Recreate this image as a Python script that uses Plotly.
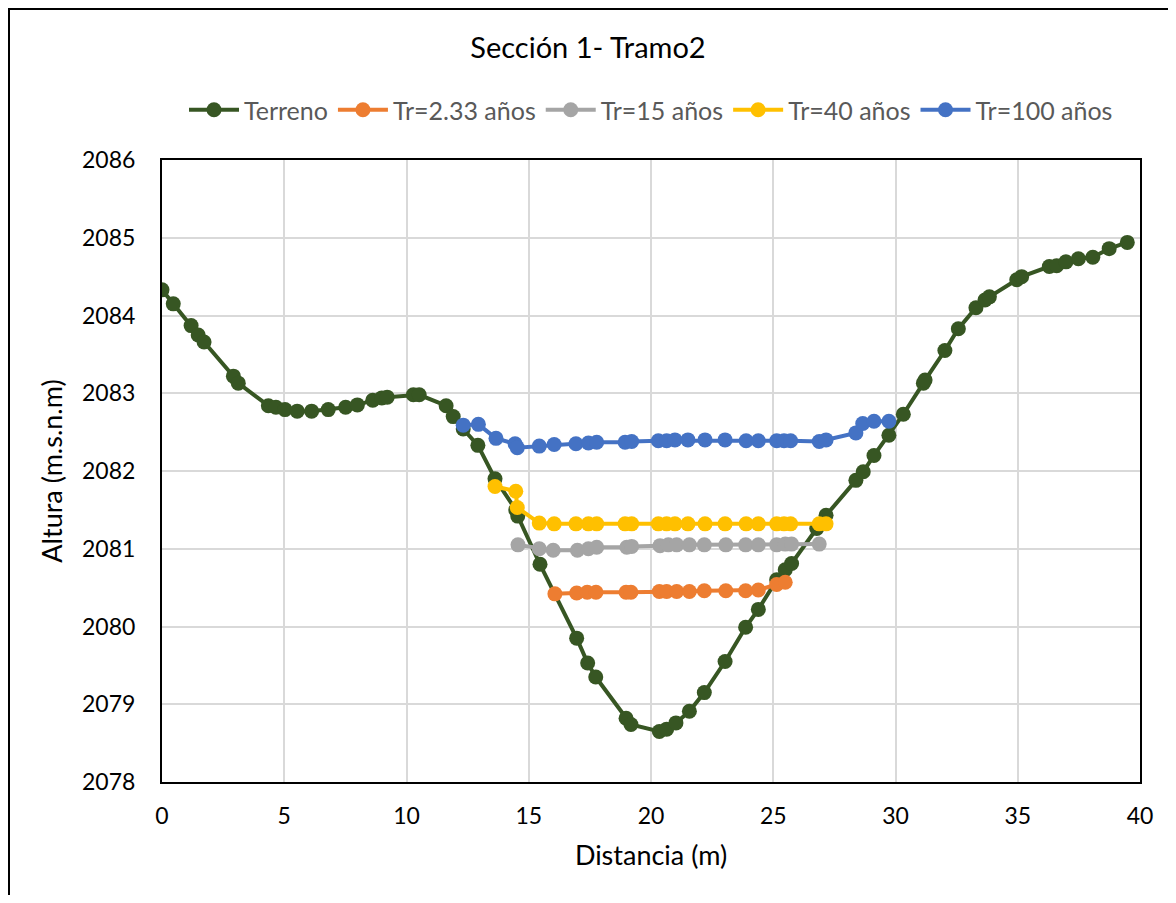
import plotly.graph_objects as go

# Terreno
terreno_x = [0.0, 0.46, 1.19, 1.48, 1.72, 2.92, 3.12, 4.35, 4.66, 5.03, 5.53, 6.12, 6.80, 7.51, 7.99,
             8.62, 8.99, 9.21, 10.28, 10.52, 11.62, 11.91, 12.32, 12.92, 13.62, 14.47, 14.55, 15.46,
             16.96, 17.41, 17.74, 18.98, 19.18, 20.34, 20.64, 21.02, 21.57, 22.18, 23.03, 23.87,
             24.39, 25.14, 25.49, 25.75, 26.78, 27.16, 28.38, 28.68, 29.12, 29.73, 30.32, 31.14,
             31.21, 32.02, 32.57, 33.29, 33.66, 33.84, 34.96, 35.16, 36.29, 36.59, 36.97, 37.48,
             38.07, 38.74, 39.48]
terreno_y = [2084.33, 2084.15, 2083.87, 2083.75, 2083.66, 2083.22, 2083.13, 2082.84, 2082.82, 2082.79,
             2082.77, 2082.77, 2082.79, 2082.82, 2082.85, 2082.91, 2082.94, 2082.95, 2082.98, 2082.98,
             2082.84, 2082.70, 2082.54, 2082.33, 2081.90, 2081.50, 2081.42, 2080.80, 2079.85, 2079.53,
             2079.35, 2078.82, 2078.74, 2078.65, 2078.68, 2078.76, 2078.91, 2079.15, 2079.55, 2079.99,
             2080.22, 2080.60, 2080.73, 2080.81, 2081.26, 2081.43, 2081.88, 2081.99, 2082.20, 2082.46,
             2082.73, 2083.13, 2083.17, 2083.55, 2083.83, 2084.10, 2084.20, 2084.24, 2084.46, 2084.50,
             2084.63, 2084.64, 2084.69, 2084.73, 2084.75, 2084.86, 2084.94]

# Tr = 2.33 años
tr233_x = [16.07, 16.96, 17.39, 17.75, 18.98, 19.18, 20.34, 20.64, 21.05, 21.57, 22.18, 23.06,
           23.87, 24.39, 25.14, 25.49]
tr233_y = [2080.42, 2080.43, 2080.44, 2080.44, 2080.44, 2080.44, 2080.45, 2080.45, 2080.45, 2080.45,
           2080.46, 2080.46, 2080.46, 2080.47, 2080.54, 2080.57]

# Tr = 15 años
tr15_x = [14.56, 15.43, 16.00, 16.99, 17.44, 17.78, 19.01, 19.21, 20.37, 20.71, 21.05, 21.57, 22.18,
          23.06, 23.87, 24.39, 25.14, 25.49, 25.75, 26.88]
tr15_y = [2081.05, 2081.00, 2080.98, 2080.98, 2081.00, 2081.02, 2081.02, 2081.03, 2081.04, 2081.05,
          2081.05, 2081.05, 2081.05, 2081.05, 2081.05, 2081.05, 2081.05, 2081.06, 2081.06, 2081.06]

# Tr = 40 años
tr40_x = [13.62, 14.47, 14.53, 15.43, 16.04, 16.93, 17.44, 17.78, 18.94, 19.21, 20.30, 20.64, 20.98,
          21.51, 22.21, 23.03, 23.89, 24.39, 25.14, 25.44, 25.71, 26.88, 27.16]
tr40_y = [2081.80, 2081.74, 2081.53, 2081.33, 2081.32, 2081.32, 2081.32, 2081.32, 2081.32, 2081.32,
          2081.32, 2081.32, 2081.32, 2081.32, 2081.32, 2081.32, 2081.32, 2081.32, 2081.32, 2081.32,
          2081.32, 2081.32, 2081.32]

# Tr = 100 años
tr100_x = [12.32, 12.94, 13.66, 14.44, 14.53, 15.43, 16.04, 16.93, 17.44, 17.78, 18.94, 19.21, 20.30,
           20.64, 20.98, 21.51, 22.21, 23.03, 23.89, 24.39, 25.14, 25.44, 25.71, 26.88, 27.16, 28.38,
           28.66, 29.12, 29.73]
tr100_y = [2082.59, 2082.60, 2082.42, 2082.35, 2082.30, 2082.32, 2082.34, 2082.35, 2082.36, 2082.37,
           2082.37, 2082.38, 2082.39, 2082.39, 2082.40, 2082.40, 2082.40, 2082.40, 2082.39, 2082.39,
           2082.39, 2082.39, 2082.39, 2082.38, 2082.40, 2082.49, 2082.61, 2082.64, 2082.64]

series = [
    ("Terreno", terreno_x, terreno_y, "#375623"),
    ("Tr=2.33 años", tr233_x, tr233_y, "#ED7D31"),
    ("Tr=15 años", tr15_x, tr15_y, "#A5A5A5"),
    ("Tr=40 años", tr40_x, tr40_y, "#FFC000"),
    ("Tr=100 años", tr100_x, tr100_y, "#4472C4"),
]

FONT = "Lato"
W, H = 1160, 887
L, T, PW, PH = 154, 152, 978, 622

fig = go.Figure()
for name, xs, ys, col in series:
    fig.add_trace(go.Scatter(
        x=xs, y=ys, name=name, mode="lines+markers",
        line=dict(color=col, width=4),
        marker=dict(color=col, size=15, line=dict(width=0)),
    ))

fig.update_layout(
    width=W, height=H,
    margin=dict(l=L, r=W - L - PW, t=T, b=H - T - PH),
    paper_bgcolor="white", plot_bgcolor="white",
    font=dict(family=FONT, color="black"),
    title=dict(text="Sección 1- Tramo2", x=0.5, xanchor="center", y=1 - 40 / H, yanchor="middle",
               font=dict(family=FONT, size=29, color="black")),
    showlegend=True,
    legend=dict(orientation="h", x=0.5, xanchor="center", y=1.0 + 50 / PH, yanchor="middle",
                font=dict(family=FONT, size=25, color="#595959"),
                itemwidth=50, tracegroupgap=0, bgcolor="rgba(0,0,0,0)"),
    xaxis=dict(range=[0, 40], dtick=5, tick0=0, showgrid=True, gridcolor="#D9D9D9", gridwidth=1.5,
               showline=True, linecolor="black", linewidth=2, mirror=True, zeroline=False,
               ticks="", ticklabelstandoff=12, tickfont=dict(family=FONT, size=23, color="black"),
               title=dict(text="Distancia (m)", font=dict(family=FONT, size=27, color="black"), standoff=19)),
    yaxis=dict(range=[2078, 2086], dtick=1, showgrid=True, gridcolor="#D9D9D9", gridwidth=1.5,
               showline=True, linecolor="black", linewidth=2, mirror=True, zeroline=False,
               ticks="", ticklabelstandoff=20, tickfont=dict(family=FONT, size=23, color="black"),
               tickformat="d",
               title=dict(text="Altura (m.s.n.m)", font=dict(family=FONT, size=27, color="black"), standoff=12)),
    shapes=[dict(type="rect", xref="paper", yref="paper",
                 x0=(1 - L) / PW, x1=(1162 - L) / PW, y0=-0.4, y1=1 + (T - 1) / PH,
                 line=dict(color="black", width=2), fillcolor="rgba(0,0,0,0)", layer="below")],
)

fig.write_html("out.html")
